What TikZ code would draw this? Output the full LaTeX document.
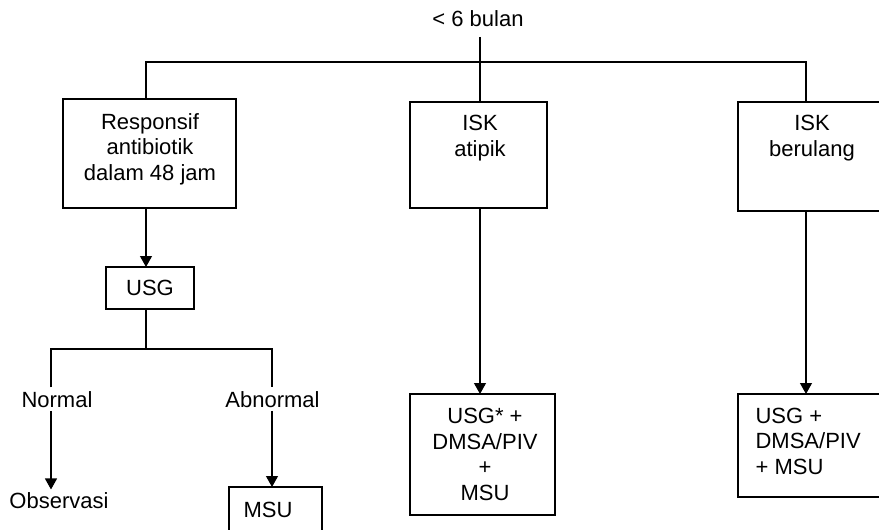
\documentclass[tikz,border=0pt]{standalone}
\usepackage{fontspec}
\setmainfont{Liberation Sans}
\usetikzlibrary{arrows.meta}
\begin{document}
\begin{tikzpicture}[x=1pt,y=-1pt,
  line width=1.2pt,
  box/.style={draw, line width=1.2pt, inner sep=0pt, outer sep=0pt},
  txt/.style={font=\fontsize{22}{25.5}\selectfont, inner sep=3pt, anchor=base, align=center},
  txtl/.style={font=\fontsize{22}{25.5}\selectfont, inner sep=0pt, anchor=base west, align=left},
  arr/.style={-{Triangle[width=12pt,length=11pt]}}]
\useasboundingbox (0,0) rectangle (879,530);
\clip (0,0) rectangle (879,530);
% boxes
\node[box, minimum width=173, minimum height=109] (b1) at (149.5,153.5) {};
\node[box, minimum width=137, minimum height=106] (b2) at (478.5,155) {};
\node[box, minimum width=157, minimum height=109] (b3) at (816.5,156.5) {};
\node[box, minimum width=88, minimum height=42] (usg) at (150,288) {};
\node[box, minimum width=145, minimum height=121] (b4) at (482.5,454.5) {};
\node[box, minimum width=157, minimum height=103] (b5) at (816.5,445.5) {};
\node[box, minimum width=93, minimum height=60] (msu) at (275.5,517) {};
% texts (base anchor = baseline of the last line)
\node[txt] (top) at (478,26) {< 6 bulan};
\node[txt] (t1) at (150,180) {Responsif\\antibiotik\\dalam 48 jam};
\node[txt] (t2) at (480,156) {ISK\\atipik};
\node[txt] (t3) at (812,156) {ISK\\berulang};
\node[txt] (tu) at (150,295) {USG};
\node[txt] (t4) at (485,500) {USG* +\\DMSA/PIV\\+\\MSU};
\node[txtl] (t5) at (755,474) {USG +\\DMSA/PIV\\+ MSU};
\node[txt] (tm) at (268,517) {MSU};
\node[txt] (normal) at (57,407) {Normal};
\node[txt] (abn) at (272.5,407) {Abnormal};
\node[txt] (obs) at (59,508) {Observasi};
% column coordinates
\coordinate (cl) at (146,62);
\coordinate (cm) at (480,62);
\coordinate (cr) at (806,62);
\coordinate (j) at (146,349);
\coordinate (jl) at (51,349);
\coordinate (jr) at (272,349);
% connectors
\draw ([yshift=-7pt]top.south -| cm) -- (cm |- b2.north);
\draw (cl |- b1.north) -- (cl) -- (cr) -- (cr |- b3.north);
\draw[arr] (cl |- b1.south) -- (cl |- usg.north);
\draw[arr] (cm |- b2.south) -- (cm |- b4.north);
\draw[arr] (cr |- b3.south) -- (cr |- b5.north);
\draw (j |- usg.south) -- (j);
\draw (jl |- normal.north) -- (jl) -- (jr) -- (jr |- abn.north);
\draw[arr] (jl |- normal.south) -- ([yshift=-1pt]jl |- obs.north);
\draw[arr] (jr |- abn.south) -- (jr |- msu.north);
\end{tikzpicture}
\end{document}
